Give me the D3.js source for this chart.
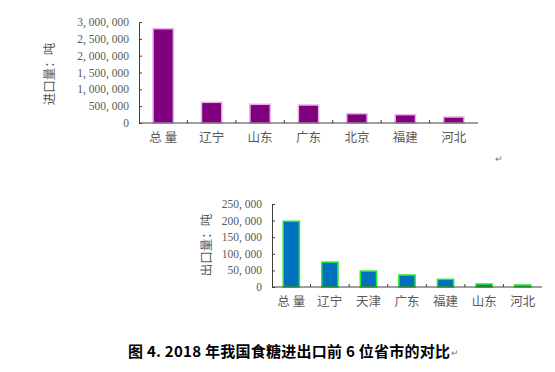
<!DOCTYPE html>
<html lang="zh">
<head>
    <meta charset="UTF-8">
    <title>2018年我国食糖进出口前6位省市的对比</title>
    <script src="https://d3js.org/d3.v7.min.js"></script>
    <style>
        body { margin: 0; background: #fff; }
    </style>
</head>
<body>
<svg width="555" height="372"></svg>
<script>
    // 进口量 (吨)
    var importCats = ["总 量", "辽宁", "山东", "广东", "北京", "福建", "河北"];
    var importVals = [2800000, 615000, 555000, 535000, 276000, 246000, 178000];
    var importTicks = [0, 500000, 1000000, 1500000, 2000000, 2500000, 3000000];

    // 出口量 (吨)
    var exportCats = ["总 量", "辽宁", "天津", "广东", "福建", "山东", "河北"];
    var exportVals = [198000, 75000, 48000, 36000, 23000, 9000, 6000];
    var exportTicks = [0, 50000, 100000, 150000, 200000, 250000];

    var svg = d3.select("svg");
    var cjk = "'Liberation Serif', 'Noto Sans CJK SC', serif";
    var grey = "#595959";

    // 3,000,000 -> "3, 000, 000"
    function fmt(v) {
        return v === 0 ? "0" : d3.format(",")(v).replace(/,/g, ", ");
    }

    function drawChart(opt) {
        var x = d3.scaleBand().domain(opt.cats).range([opt.x0, opt.x1]).padding(0);
        var y = d3.scaleLinear().domain([0, opt.max]).range([opt.y0, opt.y1]);
        var bw = x.step() * 0.42;
        var g = svg.append("g");

        g.selectAll("rect")
            .data(opt.vals)
            .enter().append("rect")
            .attr("x", function (d, i) { return x(opt.cats[i]) + (x.step() - bw) / 2; })
            .attr("y", function (d) { return y(d); })
            .attr("width", bw)
            .attr("height", function (d) { return y(0) - y(d); })
            .attr("fill", opt.fill)
            .attr("stroke", opt.stroke)
            .attr("stroke-width", 1.5);

        // y axis, ticks inside
        var ya = g.append("g")
            .attr("transform", "translate(" + opt.x0 + ",0)")
            .call(d3.axisRight(y).tickValues(opt.ticks).tickSize(3).tickFormat(""));
        ya.select(".domain").attr("stroke", "#404040");
        ya.selectAll(".tick line").attr("stroke", "#404040");

        g.selectAll(".ylab")
            .data(opt.ticks)
            .enter().append("text")
            .attr("x", opt.x0 - 10)
            .attr("y", function (d) { return y(d); })
            .attr("dy", "0.35em")
            .attr("text-anchor", "end")
            .attr("font-family", cjk)
            .attr("font-size", 11.5)
            .attr("fill", grey)
            .text(fmt);

        // x axis, ticks between categories pointing up
        g.append("line")
            .attr("x1", opt.x0).attr("x2", opt.x1)
            .attr("y1", y(0)).attr("y2", y(0))
            .attr("stroke", "#404040");
        g.selectAll(".xt")
            .data(opt.cats.slice(1))
            .enter().append("line")
            .attr("x1", function (d) { return x(d); })
            .attr("x2", function (d) { return x(d); })
            .attr("y1", y(0)).attr("y2", y(0) - 3)
            .attr("stroke", "#404040");

        g.selectAll(".xlab")
            .data(opt.cats)
            .enter().append("text")
            .attr("x", function (d) { return x(d) + x.step() / 2; })
            .attr("y", opt.labY)
            .attr("dy", "0.35em")
            .attr("text-anchor", "middle")
            .attr("font-family", cjk)
            .attr("font-size", 12.5)
            .attr("fill", grey)
            .attr("xml:space", "preserve")
            .text(function (d) { return d; });

        g.append("text")
            .attr("transform", "translate(" + opt.titleX + "," + opt.titleY + ") rotate(-90)")
            .attr("text-anchor", "middle")
            .attr("dy", "0.35em")
            .attr("font-family", cjk)
            .attr("font-size", 12.5)
            .attr("fill", grey)
            .text(opt.title);
    }

    drawChart({
        cats: importCats, vals: importVals, ticks: importTicks, max: 3000000,
        x0: 139, x1: 478, y0: 123, y1: 22, labY: 138,
        fill: "#800080", stroke: "#e8b4e8",
        title: "进口量：吨", titleX: 50, titleY: 74
    });

    drawChart({
        cats: exportCats, vals: exportVals, ticks: exportTicks, max: 250000,
        x0: 272, x1: 542, y0: 287, y1: 204, labY: 302,
        fill: "#0070c0", stroke: "#22ee22",
        title: "出口量：吨", titleX: 207, titleY: 245
    });

    // paragraph marks
    svg.append("text")
        .attr("x", 495).attr("y", 162)
        .attr("font-size", 9).attr("fill", "#777")
        .text("↵");

    svg.append("text")
        .attr("x", 128).attr("y", 357)
        .attr("font-family", "'Noto Sans CJK SC', sans-serif")
        .attr("font-weight", "bold")
        .attr("font-size", 15)
        .attr("textLength", 322)
        .attr("lengthAdjust", "spacing")
        .attr("fill", "#000")
        .text("图 4. 2018 年我国食糖进出口前 6 位省市的对比");
    svg.append("text")
        .attr("x", 451).attr("y", 356)
        .attr("font-size", 9).attr("fill", "#777")
        .text("↵");
</script>
</body>
</html>
